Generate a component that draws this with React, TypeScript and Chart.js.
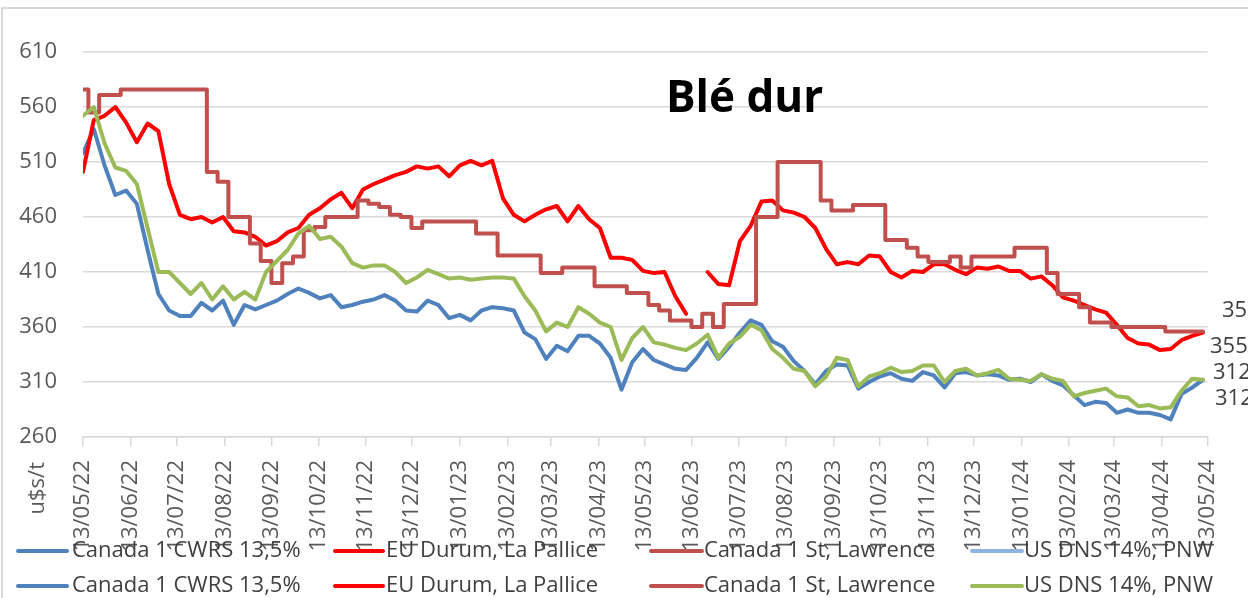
import React, { useEffect, useRef } from 'react';
import { Chart, registerables } from 'chart.js';

Chart.register(...registerables);

const FONT = '"Open Sans", "DejaVu Sans", sans-serif';

const titleText = 'Blé dur';
const unitText = 'u$s/t';

const tickLabels = [
  '13/05/22', '13/06/22', '13/07/22', '13/08/22', '13/09/22', '13/10/22', '13/11/22', '13/12/22',
  '13/01/23', '13/02/23', '13/03/23', '13/04/23', '13/05/23', '13/06/23', '13/07/23', '13/08/23',
  '13/09/23', '13/10/23', '13/11/23', '13/12/23', '13/01/24', '13/02/24', '13/03/24', '13/04/24',
  '13/05/24',
];

const seriesNames = [
  'Canada 1 CWRS 13,5%',
  'EU Durum, La Pallice',
  'Canada 1 St, Lawrence',
  'US DNS 14%, PNW',
];

// weekly observations starting 13/05/22 (one value per week)
const cwrs = [
  518, 540, 507, 480, 484, 472, 430, 390, 375, 370,
  370, 382, 375, 384, 362, 380, 376, 380, 384, 390,
  395, 391, 386, 389, 378, 380, 383, 385, 389, 384,
  375, 374, 384, 380, 368, 371, 366, 375, 378, 377,
  375, 355, 349, 331, 343, 338, 352, 352, 345, 332,
  303, 328, 340, 330, 326, 322, 321, 332, 346, 331,
  342, 355, 366, 362, 347, 342, 329, 320, 308, 320,
  326, 325, 304, 310, 315, 318, 313, 311, 319, 316,
  305, 318, 319, 316, 317, 316, 312, 313, 310, 317,
  311, 307, 298, 289, 292, 291, 282, 285, 282, 282,
  280, 276, 299, 305, 312,
];

const euDurum = [
  501, 548, 552, 560, 546, 528, 545, 538, 490, 462,
  458, 460, 455, 460, 447, 446, 442, 434, 438, 446,
  450, 462, 468, 476, 482, 468, 485, 490, 494, 498,
  501, 506, 504, 506, 497, 507, 511, 507, 511, 477,
  462, 456, 462, 467, 470, 456, 470, 458, 450, 423,
  423, 421, 411, 409, 410, 388, 372, null, 410, 399,
  398, 438, 452, 474, 475, 466, 464, 460, 450, 431,
  417, 419, 417, 425, 424, 410, 405, 411, 410, 417,
  417, 412, 408, 414, 413, 415, 411, 411, 404, 406,
  398, 387, 384, 380, 376, 373, 362, 350, 345, 344,
  339, 340, 348, 352, 355,
];

const stLawrence = [
  576, 555, 571, 571, 576, 576, 576, 576, 576, 576,
  576, 576, 501, 492, 460, 460, 436, 420, 400, 418,
  424, 448, 451, 460, 460, 460, 475, 472, 469, 462,
  460, 450, 456, 456, 456, 456, 456, 445, 445, 425,
  425, 425, 425, 409, 409, 414, 414, 414, 397, 397,
  397, 391, 391, 380, 375, 366, 366, 360, 372, 360,
  381, 381, 381, 460, 460, 510, 510, 510, 510, 475,
  466, 466, 471, 471, 471, 439, 439, 432, 424, 419,
  419, 424, 414, 424, 424, 424, 424, 432, 432, 432,
  409, 390, 390, 378, 364, 364, 360, 360, 360, 360,
  360, 356, 356, 356, 356,
];

const usDns = [
  552, 560, 527, 505, 502, 490, 450, 410, 410, 400,
  390, 400, 385, 397, 385, 392, 385, 410, 420, 430,
  445, 452, 440, 442, 433, 418, 414, 416, 416, 410,
  400, 405, 412, 408, 404, 405, 403, 404, 405, 405,
  404, 388, 375, 356, 364, 360, 378, 372, 364, 360,
  330, 350, 360, 346, 344, 341, 339, 345, 353, 332,
  345, 351, 362, 357, 340, 332, 322, 320, 306, 315,
  332, 330, 306, 315, 318, 323, 319, 320, 325, 325,
  310, 320, 322, 316, 318, 321, 313, 312, 311, 317,
  313, 311, 297, 300, 302, 304, 297, 296, 288, 289,
  286, 287, 302, 313, 312,
];

const seriesValues = [cwrs, euDurum, stLawrence, usDns];
const seriesColors = ['#4F81BD', '#FF0000', '#C0504D', '#9BBB59'];
const legendRow1Colors = ['#4F81BD', '#FF0000', '#C0504D', '#8DB4E2'];

const DAY0 = Date.UTC(2022, 4, 13);
function dayOf(label: string): number {
  const [d, m, y] = label.split('/').map(Number);
  return Math.round((Date.UTC(2000 + y, m - 1, d) - DAY0) / 86400000);
}
const tickDays = tickLabels.map(dayOf);

const overlayPlugin = {
  id: 'overlay',
  beforeDraw(chart: any) {
    const ctx = chart.ctx;
    ctx.save();
    ctx.strokeStyle = '#d9d9d9';
    ctx.lineWidth = 2;
    ctx.strokeRect(2, 8, 1300, 700);
    ctx.restore();
  },
  afterDraw(chart: any) {
    const ctx = chart.ctx;
    const yScale = chart.scales.y;
    ctx.save();
    // title
    ctx.fillStyle = '#000000';
    ctx.font = `bold 44px ${FONT}`;
    ctx.textAlign = 'left';
    ctx.textBaseline = 'alphabetic';
    ctx.fillText(titleText, 666, 112);

    // unit label
    ctx.save();
    ctx.fillStyle = '#595959';
    ctx.font = `22px ${FONT}`;
    ctx.translate(38, 462);
    ctx.rotate(-Math.PI / 2);
    ctx.textAlign = 'right';
    ctx.textBaseline = 'middle';
    ctx.fillText(unitText, 0, 0);
    ctx.restore();

    // end-of-series value labels
    const endX = [1215, 1210, 1222, 1213];
    const endDy = [19, 14, -21, -7];
    ctx.fillStyle = '#404040';
    ctx.font = `22px ${FONT}`;
    ctx.textAlign = 'left';
    ctx.textBaseline = 'middle';
    seriesValues.forEach((vals, i) => {
      const last = vals[vals.length - 1] as number;
      const y = yScale.getPixelForValue(last) + endDy[i];
      ctx.fillText(String(last), endX[i], y);
    });

    // legend (two rows)
    const rowsY = [551, 586];
    const lineX = [[18, 67], [335, 383], [651, 702], [972, 1022]];
    const textX = [72, 386, 704, 1024];
    const rowColors = [legendRow1Colors, seriesColors];
    rowsY.forEach((ry, r) => {
      seriesNames.forEach((name, i) => {
        ctx.strokeStyle = rowColors[r][i];
        ctx.lineWidth = 4;
        ctx.lineCap = 'round';
        ctx.beginPath();
        ctx.moveTo(lineX[i][0], ry);
        ctx.lineTo(lineX[i][1], ry);
        ctx.stroke();
        ctx.fillStyle = '#404040';
        ctx.font = `22px ${FONT}`;
        ctx.textAlign = 'left';
        ctx.textBaseline = 'middle';
        ctx.fillText(name, textX[i], ry);
      });
    });
    ctx.restore();
  },
};

export default function App() {
  const canvasRef = useRef<HTMLCanvasElement | null>(null);

  useEffect(() => {
    document.body.style.margin = '0';
    const canvas = canvasRef.current;
    if (!canvas) return;
    const datasets = seriesValues.map((vals, i) => ({
      label: seriesNames[i],
      data: vals.map((v, k) => ({ x: k * 7, y: v })),
      borderColor: seriesColors[i],
      backgroundColor: seriesColors[i],
      borderWidth: 4,
      pointRadius: 0,
      pointHoverRadius: 0,
      tension: 0,
      fill: false,
      spanGaps: false,
      borderCapStyle: 'round' as const,
      borderJoinStyle: 'round' as const,
      stepped: i === 2 ? ('middle' as const) : false,
      order: 4 - i,
    }));

    const chart = new Chart(canvas, {
      type: 'line',
      data: { datasets },
      options: {
        responsive: false,
        animation: false,
        devicePixelRatio: 1,
        layout: { padding: { left: 0, top: 52, right: 40, bottom: 0 } },
        plugins: {
          legend: { display: false },
          tooltip: { enabled: false },
          title: { display: false },
        },
        scales: {
          x: {
            type: 'linear',
            min: 0,
            max: tickDays[tickDays.length - 1],
            afterBuildTicks: (axis: any) => {
              axis.ticks = tickDays.map((v) => ({ value: v }));
            },
            afterFit: (axis: any) => {
              axis.height = 161;
            },
            ticks: {
              autoSkip: false,
              maxRotation: 90,
              minRotation: 90,
              padding: 14,
              color: '#595959',
              font: { family: FONT, size: 22 },
              callback: (_v: any, i: number) => tickLabels[i],
            },
            grid: {
              drawOnChartArea: false,
              drawTicks: true,
              tickLength: 9,
              color: '#d9d9d9',
              lineWidth: 1.5,
            },
            border: { display: true, color: '#d9d9d9', width: 1.5 },
          },
          y: {
            min: 260,
            max: 610,
            afterFit: (axis: any) => {
              axis.width = 83;
            },
            ticks: {
              stepSize: 50,
              padding: 26,
              color: '#595959',
              font: { family: FONT, size: 22 },
            },
            grid: { color: '#d9d9d9', lineWidth: 1.5, drawTicks: false },
            border: { display: false },
          },
        },
      },
      plugins: [overlayPlugin],
    });
    return () => chart.destroy();
  }, []);

  return (
    <div style={{ position: 'fixed', left: 0, top: 0, width: 1248, height: 598, background: '#ffffff' }}>
      <canvas ref={canvasRef} width={1248} height={598} style={{ width: 1248, height: 598, display: 'block' }} />
    </div>
  );
}
